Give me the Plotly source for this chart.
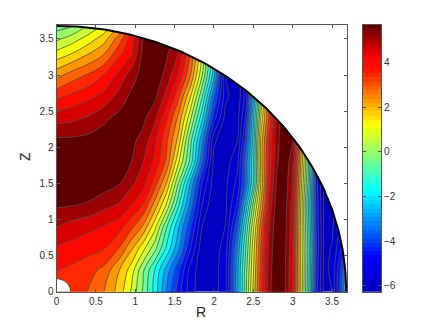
import numpy as np
import plotly.graph_objects as go

# values, one list per Z row
r_vals = [0, .2, .4, .6, .8, .95, 1.1, 1.25, 1.4, 1.55, 1.7, 1.85, 2.0, 2.15, 2.3,
          2.4, 2.5, 2.6, 2.7, 2.8, 2.9, 3.0, 3.1, 3.2, 3.3, 3.4, 3.5, 3.6, 3.7]
z_vals = [0, .3, .6, .9, 1.2, 1.5, 1.8, 2.1, 2.4, 2.7, 3.0, 3.3, 3.5, 3.7]

row_00 = [3.45, 3.3, 2.97, 2.45, 1.66, .74, -.36, -1.59, -3.09, -4.4, -5.48, -6.1, -6.0, -5.3, -2.6,
          -.5, 1.5, 3.4, 5.0, 5.7, 5.25, 4.1, 1.4, -1.3, -4.4, -5.95, -5.73, -4.0, -1.5]
row_03 = [3.54, 3.4, 3.2, 2.85, 1.9, 1.1, -.18, -1.4, -2.7, -4.0, -5.4, -6.1, -6.0, -5.3, -2.6,
          -.6, 1.3, 3.3, 4.9, 5.7, 5.25, 4.1, 1.4, -1.1, -4.3, -5.9, -5.6, -4.2, -2.5]
row_06 = [4.0, 3.88, 3.72, 3.57, 2.95, 2.0, 1.0, -.1, -1.5, -2.9, -4.6, -6.1, -6.1, -5.4, -2.9,
          -.9, 1.1, 3.1, 4.8, 5.65, 5.3, 4.2, 1.3, -1.0, -4.1, -5.85, -5.7, -4.8, -3.5]
row_09 = [4.63, 4.4, 4.22, 4.06, 3.75, 3.15, 2.35, 1.0, -.8, -2.4, -4.0, -5.73, -6.2, -5.7, -3.6,
          -1.4, .7, 2.8, 4.6, 5.6, 5.35, 4.3, 1.3, -1.2, -4.2, -5.85, -5.8, -5.2, -4.6]
row_12 = [5.25, 5.2, 5.1, 4.8, 4.55, 4.1, 3.5, 2.2, .7, -1.3, -3.2, -5.2, -6.2, -5.8, -4.5,
          -2.4, -.1, 2.0, 4.2, 5.5, 5.4, 4.4, 1.4, -1.4, -4.3, -5.85, -5.85, -5.6, -5.3]
row_15 = [5.6, 5.58, 5.55, 5.45, 5.2, 4.75, 4.3, 3.25, 1.85, -.3, -2.5, -4.7, -6.0, -5.85, -5.0,
          -3.4, -1.4, 1.5, 3.9, 5.3, 5.5, 4.6, 1.7, -1.0, -4.4, -5.9, -6.0, -5.9, -5.8]
row_18 = [5.65, 5.65, 5.62, 5.58, 5.45, 5.17, 4.63, 3.95, 2.85, .9, -1.0, -3.5, -5.95, -6.0, -5.3,
          -3.4, -1.5, 1.7, 3.7, 5.1, 5.6, 4.8, 2.0, -.7, -4.0, -5.7, -6.0, -6.0, -6.0]
row_21 = [5.27, 5.28, 5.35, 5.45, 5.45, 5.3, 5.0, 4.2, 3.1, 1.7, -.6, -2.9, -5.6, -6.2, -5.73,
          -4.0, -1.7, 1.6, 3.6, 5.0, 5.6, 5.17, 2.5, -.5, -3.5, -5.5, -6.0, -6.0, -6.0]
row_24 = [4.43, 4.5, 4.7, 5.05, 5.35, 5.4, 5.3, 4.75, 3.6, 2.3, .4, -1.8, -4.4, -6.0, -5.9,
          -4.6, -2.0, 1.0, 3.1, 4.95, 5.6, 5.3, 3.0, 0, -3.5, -5.5, -6.0, -6.0, -6.0]
row_27 = [3.4, 3.7, 3.95, 4.25, 4.85, 5.3, 5.45, 5.3, 4.4, 3.1, 1.4, -.8, -3.5, -5.6, -6.1,
          -5.0, -2.5, .4, 3.0, 5.0, 5.6, 5.3, 3.0, 0, -3.5, -5.5, -6.0, -6.0, -6.0]
row_30 = [2.25, 2.7, 3.05, 3.54, 4.25, 4.9, 5.4, 5.5, 5.0, 4.0, 2.5, .3, -2.3, -5.73, -6.1,
          -5.0, -2.5, .4, 3.0, 5.0, 5.6, 5.3, 3.0, 0, -3.5, -5.5, -6.0, -6.0, -6.0]
row_33 = [.98, 1.36, 1.85, 2.37, 3.4, 3.95, 5.35, 5.45, 5.25, 4.6, 3.0, .8, -2.0, -5.0, -6.1,
          -5.0, -2.5, .4, 3.0, 5.0, 5.6, 5.3, 3.0, 0, -3.5, -5.5, -6.0, -6.0, -6.0]
row_35 = [.15, .55, 1.05, 1.65, 2.75, 3.8, 5.17, 5.4, 5.4, 5.0, 3.5, 1.0, -2.0, -5.0, -6.1,
          -5.0, -2.5, .4, 3.0, 5.0, 5.6, 5.3, 3.0, 0, -3.5, -5.5, -6.0, -6.0, -6.0]
row_37 = [-.65, -.4, .2, .85, 1.8, 3.0, 4.6, 5.3, 5.4, 5.0, 3.5, 1.0, -2.0, -5.0, -6.1,
          -5.0, -2.5, .4, 3.0, 5.0, 5.6, 5.3, 3.0, 0, -3.5, -5.5, -6.0, -6.0, -6.0]

values = [row_00, row_03, row_06, row_09, row_12, row_15, row_18, row_21, row_24,
          row_27, row_30, row_33, row_35, row_37]

c_min, c_max = -6.27, 5.72
outer_radius = 3.68
inner_radius = 0.18
r_ticks = [0, .5, 1, 1.5, 2, 2.5, 3, 3.5]
z_ticks = [0, .5, 1, 1.5, 2, 2.5, 3, 3.5]
bar_ticks = [-6, -4, -2, 0, 2, 4]

jet = [[0, 'rgb(0,0,194)'], [.125, 'rgb(0,0,255)'], [.375, 'rgb(0,255,255)'],
       [.625, 'rgb(255,255,0)'], [.75, 'rgb(255,110,0)'], [.83, 'rgb(255,15,0)'],
       [.875, 'rgb(255,0,0)'], [1, 'rgb(95,0,0)']]

W, H = 436, 328
axis_col = '#555555'
text_col = '#333333'
font_name = 'Liberation Sans'

fig = go.Figure()

# ------------ filled contours
fig.add_trace(go.Contour(x=r_vals, y=z_vals, z=values,
                         colorscale=jet, zmin=c_min, zmax=c_max,
                         autocontour=False,
                         contours=dict(start=-5.73, end=5.17, size=0.545, coloring='fill'),
                         line=dict(color='#505050', width=0.8),
                         showscale=False, hoverinfo='skip'))

# ------------ white outside the quarter disc, and the hole at the origin
t = np.linspace(0, np.pi / 2, 120)
arc_x = outer_radius * np.cos(t)
arc_y = outer_radius * np.sin(t)
fig.add_trace(go.Scatter(x=list(arc_x) + [0, 4, 4, outer_radius],
                         y=list(arc_y) + [4, 4, 0, 0],
                         mode='lines', fill='toself', fillcolor='white',
                         line=dict(width=0), hoverinfo='skip', showlegend=False))
fig.add_trace(go.Scatter(x=arc_x, y=arc_y, mode='lines', cliponaxis=False,
                         line=dict(color='black', width=2), hoverinfo='skip', showlegend=False))
fig.add_trace(go.Scatter(x=list(inner_radius * np.cos(t)) + [0], y=list(inner_radius * np.sin(t)) + [0],
                         mode='lines', fill='toself', fillcolor='white',
                         line=dict(color='#404040', width=0.8), hoverinfo='skip', showlegend=False))

# ------------ colour bar as its own axes
bar_levels = np.linspace(c_min, c_max, 64)
fig.add_trace(go.Heatmap(x=[0], y=bar_levels, z=[[v] for v in bar_levels],
                         colorscale=jet, zmin=c_min, zmax=c_max, showscale=False,
                         hoverinfo='skip', xaxis='x2', yaxis='y2'))

axis_style = dict(showgrid=False, zeroline=False, showline=True, linecolor=axis_col, linewidth=1,
                  ticks='inside', ticklen=3, tickcolor=axis_col, tickwidth=1,
                  tickfont=dict(family=font_name, size=10, color=text_col))

title_font = dict(family=font_name, size=14, color='#222222')

fig.update_layout(width=W, height=H, autosize=False, showlegend=False,
                  paper_bgcolor='white', plot_bgcolor='white',
                  margin=dict(l=0, r=0, t=0, b=0),
                  xaxis=dict(domain=[56.5 / W, 347 / W], range=[0, 3.69], tickvals=r_ticks,
                             ticktext=['0', '0.5', '1', '1.5', '2', '2.5', '3', '3.5'],
                             mirror='ticks', anchor='y', automargin=False, **axis_style),
                  yaxis=dict(domain=[1 - 291.7 / H, 1 - 24.5 / H], range=[0, 3.70], tickvals=z_ticks,
                             ticktext=['0', '0.5', '1', '1.5', '2', '2.5', '3', '3.5'],
                             mirror='ticks', anchor='x', automargin=False, **axis_style),
                  xaxis2=dict(domain=[363 / W, 381 / W], range=[-.5, .5], showticklabels=False,
                              showgrid=False, zeroline=False, showline=True, linecolor=axis_col,
                              linewidth=1, mirror=True, ticks='', anchor='y2'),
                  yaxis2=dict(domain=[1 - 291.7 / H, 1 - 24.5 / H], range=[c_min, c_max], tickvals=bar_ticks,
                              side='right', mirror='allticks', anchor='x2', automargin=False, **axis_style),
                  annotations=[dict(text='R', x=201 / W, y=1 - 312 / H, xref='paper', yref='paper',
                                    xanchor='center', yanchor='middle', showarrow=False, font=title_font),
                               dict(text='Z', x=25 / W, y=1 - 157 / H, xref='paper', yref='paper',
                                    xanchor='center', yanchor='middle', showarrow=False, textangle=-90,
                                    font=title_font)])

# the page's default body margin would push the figure 8px off
fig.write_html("out.html", config=dict(displayModeBar=False),
               post_script="document.body.style.margin='0';")
